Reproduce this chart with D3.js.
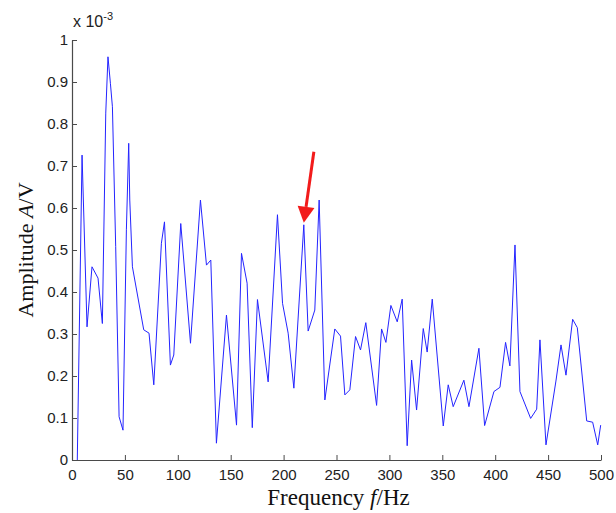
<!DOCTYPE html>
<html>
<head>
<meta charset="utf-8">
<script src="https://cdn.jsdelivr.net/npm/d3@7"></script>
<style>
  body { margin: 0; background: #fff; }
  svg { display: block; }
</style>
</head>
<body>
<div id="chart"></div>
<script>
// spectrum (frequency in Hz, amplitude in 1e-3 V)
const freqs = [5, 9.5, 14.2, 18.9, 24.6, 28.7, 31.9, 34.0, 36.3, 38.2, 41.3, 44.5, 48.2, 51.4, 53.6, 54.6, 57.1,
  67.8, 72.8, 77.3, 84.5, 87.4, 93.0, 96.2, 102.8, 112.0, 121.4, 127.1, 131.2, 136.5, 146.0, 155.5, 160.2,
  165.5, 170.4, 175.3, 185.4, 194.2, 199.0, 204.3, 209.7, 219.1, 223.2, 229.5, 233.6, 239.0, 248.4, 253.8,
  257.9, 262.6, 268.0, 272.7, 277.7, 287.9, 292.6, 296.7, 301.4, 307.4, 312.1, 316.8, 321.0, 325.7, 332.0,
  335.7, 340.5, 350.9, 355.6, 360.3, 370.4, 375.2, 384.6, 390.0, 398.8, 404.5, 409.8, 413.9, 418.7, 423.4,
  433.5, 439.2, 442.3, 448.0, 457.4, 462.2, 466.9, 473.2, 477.6, 486.5, 492.1, 496.9, 499.7];
const amps = [0.0, 0.726, 0.317, 0.46, 0.433, 0.325, 0.826, 0.96, 0.897, 0.841, 0.508, 0.103, 0.071, 0.548, 0.754, 0.619, 0.46,
  0.31, 0.302, 0.179, 0.516, 0.567, 0.226, 0.25, 0.563, 0.278, 0.619, 0.464, 0.476, 0.040, 0.345, 0.083, 0.492,
  0.421, 0.077, 0.382, 0.186, 0.584, 0.373, 0.302, 0.171, 0.560, 0.307, 0.357, 0.619, 0.143, 0.312, 0.295,
  0.155, 0.167, 0.294, 0.262, 0.327, 0.130, 0.312, 0.280, 0.368, 0.329, 0.383, 0.034, 0.238, 0.119, 0.313,
  0.257, 0.383, 0.081, 0.179, 0.127, 0.19, 0.127, 0.266, 0.082, 0.163, 0.173, 0.280, 0.224, 0.512, 0.163,
  0.099, 0.121, 0.286, 0.036, 0.188, 0.274, 0.202, 0.335, 0.315, 0.093, 0.090, 0.036, 0.083];

const xTicks = [0, 50, 100, 150, 200, 250, 300, 350, 400, 450, 500];
const yTicks = [0, 0.1, 0.2, 0.3, 0.4, 0.5, 0.6, 0.7, 0.8, 0.9, 1];

// arrow pointing at the 219 Hz peak: [tail, tip] in data units
const arrowFrom = [228.6, 0.734];
const arrowTo = [219.1, 0.565];

const width = 616;
const height = 513;
const margin = {top: 40, right: 15, bottom: 53, left: 72};

const svg = d3.select("#chart")
  .append("svg")
    .attr("width", width)
    .attr("height", height);

const x = d3.scaleLinear()
  .domain([0, 500])
  .range([margin.left, width - margin.right]);

const y = d3.scaleLinear()
  .domain([0, 1])
  .range([height - margin.bottom, margin.top]);

const tickFont = "'Liberation Sans', Arial, sans-serif";
const axisColor = "#4a4a4a";

// bottom axis, ticks pointing inward
const xAxis = svg.append("g")
  .attr("transform", `translate(0,${y(0)})`)
  .call(d3.axisBottom(x).tickValues(xTicks).tickSizeInner(-5).tickSizeOuter(0).tickPadding(9));

// left axis
const yAxis = svg.append("g")
  .attr("transform", `translate(${x(0)},0)`)
  .call(d3.axisLeft(y).tickValues(yTicks).tickFormat(d => String(+d.toFixed(1)))
    .tickSizeInner(-5).tickSizeOuter(0).tickPadding(4));

[xAxis, yAxis].forEach(g => {
  g.select(".domain").attr("stroke", axisColor).attr("stroke-width", 1.2);
  g.selectAll(".tick line").attr("stroke", axisColor);
  g.selectAll(".tick text")
    .attr("fill", "#222")
    .attr("font-family", tickFont)
    .attr("font-size", 15);
});

// the spectrum line
const points = freqs.map((f, i) => [f, amps[i]]);
svg.append("path")
  .datum(points)
  .attr("fill", "none")
  .attr("stroke", "#2424ff")
  .attr("stroke-width", 1)
  .attr("stroke-linejoin", "round")
  .attr("d", d3.line().x(d => x(d[0])).y(d => y(d[1])));

// exponent label
const expo = svg.append("text")
  .attr("x", x(0) + 1)
  .attr("y", margin.top - 13)
  .attr("font-family", tickFont)
  .attr("font-size", 16)
  .attr("fill", "#222");
expo.append("tspan").text("x 10");
expo.append("tspan").attr("dy", -7).attr("font-size", 11).text("-3");

// red arrow
const ax0 = x(arrowFrom[0]), ay0 = y(arrowFrom[1]);
const ax1 = x(arrowTo[0]), ay1 = y(arrowTo[1]);
const ang = Math.atan2(ay1 - ay0, ax1 - ax0);
const headLen = 16, headHalf = 8.5;
const bx = ax1 - headLen * Math.cos(ang), by = ay1 - headLen * Math.sin(ang);
svg.append("line")
  .attr("x1", ax0).attr("y1", ay0)
  .attr("x2", bx).attr("y2", by)
  .attr("stroke", "#f21b1b")
  .attr("stroke-width", 3);
svg.append("path")
  .attr("fill", "#f21b1b")
  .attr("d", d3.line()([
    [ax1, ay1],
    [bx + headHalf * Math.sin(ang), by - headHalf * Math.cos(ang)],
    [bx - headHalf * Math.sin(ang), by + headHalf * Math.cos(ang)]
  ]) + "Z");

// axis titles (serif, italic symbols)
const titleFont = "'Liberation Serif', 'Times New Roman', serif";
const xt = svg.append("text")
  .attr("x", (x(0) + x(500)) / 2 + 2)
  .attr("y", height - 8)
  .attr("text-anchor", "middle")
  .attr("font-family", titleFont)
  .attr("font-size", 23)
  .attr("fill", "#111");
xt.append("tspan").text("Frequency ");
xt.append("tspan").attr("font-style", "italic").text("f");
xt.append("tspan").text("/Hz");

const yt = svg.append("text")
  .attr("transform", `translate(33,${(y(0) + y(1)) / 2}) rotate(-90)`)
  .attr("text-anchor", "middle")
  .attr("font-family", titleFont)
  .attr("font-size", 22)
  .attr("fill", "#111");
yt.append("tspan").text("Amplitude ");
yt.append("tspan").attr("font-style", "italic").text("A");
yt.append("tspan").text("/V");
</script>
</body>
</html>
